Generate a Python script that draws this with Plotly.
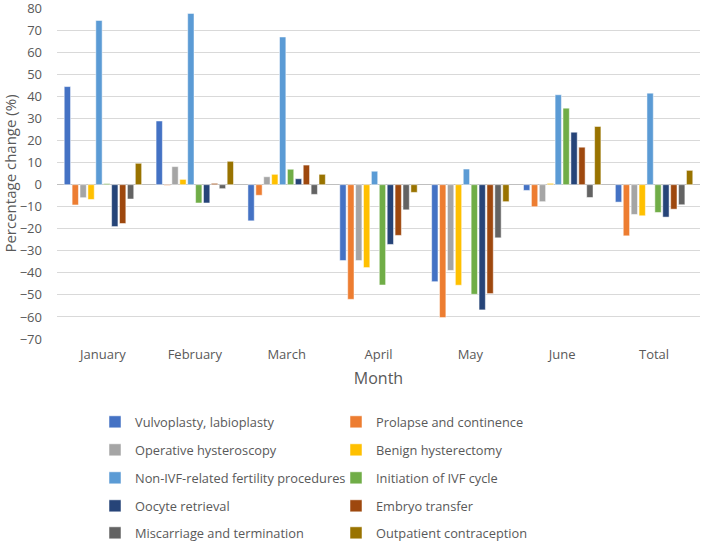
import plotly.graph_objects as go

months = ["January", "February", "March", "April", "May", "June", "Total"]

series_names = [
    "Vulvoplasty, labioplasty",
    "Prolapse and continence",
    "Operative hysteroscopy",
    "Benign hysterectomy",
    "Non-IVF-related fertility procedures",
    "Initiation of IVF cycle",
    "Oocyte retrieval",
    "Embryo transfer",
    "Miscarriage and termination",
    "Outpatient contraception",
]

vulvoplasty = [44.5, 28.9, -16.4, -34.4, -44.0, -2.6, -7.9]
prolapse = [-9.2, -0.3, -4.8, -52.0, -60.3, -10.0, -23.2]
hysteroscopy = [-5.9, 8.2, 3.6, -34.4, -38.9, -7.7, -13.5]
hysterectomy = [-6.7, 2.4, 4.7, -37.6, -45.6, 0.6, -14.1]
non_ivf = [74.5, 77.7, 67.0, 6.1, 7.1, 40.8, 41.5]
ivf_initiation = [0.5, -8.3, 7.0, -45.5, -49.7, 34.7, -12.6]
oocyte = [-19.0, -8.3, 2.7, -27.1, -56.8, 23.8, -14.7]
embryo = [-17.6, 0.6, 8.9, -23.0, -49.4, 17.0, -11.1]
miscarriage = [-6.5, -1.8, -4.4, -11.4, -24.1, -5.8, -9.1]
contraception = [9.7, 10.6, 4.7, -3.5, -7.7, 26.4, 6.5]

series_values = [vulvoplasty, prolapse, hysteroscopy, hysterectomy, non_ivf,
                 ivf_initiation, oocyte, embryo, miscarriage, contraception]

colors = ["#4472C4", "#ED7D31", "#A5A5A5", "#FFC000", "#5B9BD5",
          "#70AD47", "#264478", "#9E480E", "#636363", "#997300"]

y_ticks = list(range(-70, 81, 10))

FONT = "Open Sans, sans-serif"
TXT = "#595959"

W, H = 709, 544
ML, MR, MT, MB = 57, 9, 8, 205
plot_h = H - MT - MB
plot_w = W - ML - MR

legend_ids = ["legend", "legend2", "legend3", "legend4", "legend5"]

fig = go.Figure()
for i, (name, vals, col) in enumerate(zip(series_names, series_values, colors)):
    fig.add_trace(go.Bar(
        x=months, y=vals, name=name,
        marker=dict(color=col, line=dict(color="white", width=0.5)),
        legend=legend_ids[i // 2],
    ))

row_px = [422, 450, 478, 506, 533]
legend_x_px = 95
legend_layout = {}
for lid, ypx in zip(legend_ids, row_px):
    legend_layout[lid] = dict(
        orientation="h",
        x=(legend_x_px - ML) / plot_w, xanchor="left",
        y=(H - MB - ypx) / plot_h, yanchor="middle",
        entrywidth=196, entrywidthmode="pixels",
        font=dict(family=FONT, size=12.8, color=TXT),
        bgcolor="rgba(0,0,0,0)", itemwidth=30,
    )

fig.update_layout(
    width=W, height=H,
    margin=dict(l=ML, r=MR, t=MT, b=MB, autoexpand=False),
    paper_bgcolor="white", plot_bgcolor="white",
    barmode="group", bargap=0.14, bargroupgap=0.2,
    font=dict(family=FONT, color=TXT, size=13),
    xaxis=dict(
        title=dict(text="Month", font=dict(size=16, color=TXT), standoff=10),
        showgrid=False, showline=False, ticks="",
        tickfont=dict(size=13, color=TXT), ticklabelstandoff=6,
    ),
    yaxis=dict(
        title=dict(text="Percentage change (%)", font=dict(size=15, color=TXT), standoff=6),
        range=[-70, 80.15], tickvals=y_ticks, showgrid=True, gridcolor="#D9D9D9",
        gridwidth=1, zeroline=True, zerolinecolor="#BFBFBF", zerolinewidth=1,
        tickfont=dict(size=13, color=TXT), ticks="", showline=False,
        ticklabelstandoff=14, ticklabeloverflow="allow",
    ),
    showlegend=True,
    **legend_layout,
)

fig.write_html("out.html", config={"displayModeBar": False},
               post_script="document.body.style.margin='0px';")
